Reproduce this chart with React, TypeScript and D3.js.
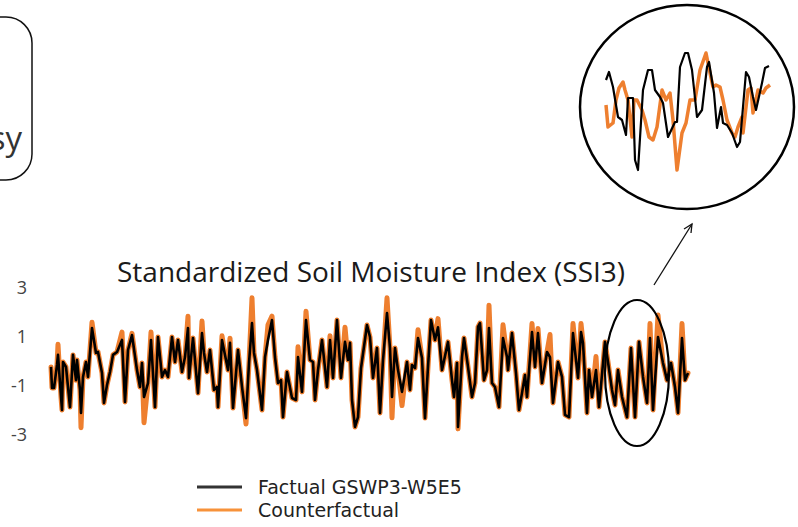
import * as d3 from 'd3';

const W = 798;
const H = 527;

// SSI3 monthly series (month index from start of record)
const months = [
  1, 2, 4, 7, 8, 11, 12, 13, 16, 20,
  23, 26, 27, 30, 31, 33, 36, 38, 42, 46,
  48, 52, 54, 57, 60, 63, 67, 72, 75, 78,
  82, 87, 90, 92, 94, 98, 101, 105, 108, 112,
  115, 118, 122, 125, 128, 132, 135, 138, 139, 143,
  148, 152, 154, 157, 160, 164, 167, 168, 172, 175,
  178, 180, 183, 188, 192, 196, 199, 202, 204, 207,
  212, 215, 218, 222, 225, 228, 231, 233, 237, 242,
  246, 248, 252, 256, 260, 263, 265, 268, 272, 277,
  280, 283, 287, 291, 295, 298, 300, 302, 305, 308,
  311, 317, 320, 323, 327, 330, 333, 337, 340, 342,
  345, 348, 352, 357, 360, 362, 365, 368, 372, 375,
  378, 381, 385, 388, 392, 398, 402, 404, 407, 408,
  412, 414, 418, 422, 425, 428, 430, 434, 437, 439,
  442, 445, 449, 453, 457, 458, 462, 466, 469, 472,
  475, 477, 482, 485, 488, 492, 497, 500, 503, 508,
  512, 515, 519, 523, 528, 531, 533, 537, 539, 542,
  546, 549, 555, 558, 562, 565, 568, 572, 577, 581,
  585, 589, 593, 597, 600, 603, 608, 613, 617, 621,
  625, 628, 632, 635, 638,
];

const factual = [
  -0.22, -1.08, -1.08, -0.14, 0.27, -1.45, -1.98, -0.02, -0.22, -1.86,
  0.27, -0.76, 0.06, -1.16, -2.1, -0.63, -0.02, -0.63, 1.37, 0.35,
  0.39, -0.47, -1.69, -0.96, -0.43, 0.27, 0.39, 0.88, -1.65, 0.47,
  1.08, -0.35, -1.04, -0.06, -1.45, -0.88, 0.88, -1.86, 1.0, -0.63,
  -0.35, -0.63, 1.0, -0.02, 0.88, -0.43, 0.18, 1.37, -0.67, 0.96,
  -1.29, 1.16, 0.35, -0.43, 0.47, -1.16, -1.04, -1.86, 0.88, 0.27,
  -0.35, 0.76, -1.9, 0.47, -1.04, -2.31, -0.06, 1.57, 0.35, -0.35,
  -1.98, 0.18, 0.88, 1.69, 0.18, -0.88, -0.76, -2.27, -0.43, -1.49,
  -1.57, 0.18, -1.24, 1.69, 0.06, -0.02, -1.57, -0.35, 0.88, -1.04,
  0.88, -0.67, 1.69, -0.67, 0.8, 0.06, 0.76, -1.57, -2.67, -2.27,
  -0.27, 1.49, 1.0, -0.67, 0.55, -2.1, 0.06, 1.98, 0.55, -1.45,
  0.55, -0.35, -1.24, -0.02, -1.16, -0.14, -0.27, 0.96, 0.14, -2.31,
  -0.22, 1.69, 0.88, 1.4, -0.35, 0.8, -0.76, -1.45, -0.06, -2.67,
  0.18, 0.96, -0.22, -1.45, -0.88, 1.41, 1.57, -0.76, -0.35, 1.37,
  -0.88, -1.04, -1.86, 0.96, 0.18, -0.35, 1.16, -0.47, -1.98, -1.29,
  -0.55, -1.45, 1.2, -0.22, 1.16, -0.88, 0.39, 0.18, -1.69, -0.02,
  -0.63, -2.18, -2.27, 1.16, -0.67, 1.2, 0.76, -2.1, -0.35, -1.45,
  -0.35, -1.86, 0.8, -0.02, -1.16, -1.78, -0.35, -1.45, -2.27, 0.55,
  -2.27, 0.8, -0.63, -1.69, 0.96, -1.98, 1.0, -0.06, -0.76, -0.06,
  -1.04, -2.1, 0.96, -0.76, -0.47,
];

const counterfactual = [
  -0.22, -1.08, -1.08, -0.14, 0.7, -1.45, -1.98, -0.02, -0.22, -1.86,
  0.27, -0.76, 0.06, -1.16, -2.7, -0.63, -0.02, -0.63, 1.6, 0.35,
  0.39, -0.47, -1.69, -0.96, -0.43, 0.27, 0.39, 1.2, -1.65, 0.47,
  1.15, -0.35, -1.04, -0.06, -2.5, -0.88, 1.2, -1.86, 1.0, -0.63,
  -0.35, -0.63, 1.0, -0.02, 0.88, -0.43, 0.18, 1.85, -0.67, 0.96,
  -1.29, 1.65, 0.35, -0.43, 0.47, -1.16, -1.04, -1.86, 1.05, 0.27,
  -0.35, 0.95, -1.9, 0.47, -1.04, -2.55, -0.06, 2.6, 0.35, -0.35,
  -1.98, 0.18, 1.5, 1.85, 0.18, -0.88, -0.76, -2.27, -0.43, -1.49,
  -1.57, 0.6, -1.24, 2.05, 0.06, -0.02, -1.57, -0.35, 0.88, -1.04,
  1.05, -0.67, 1.69, -0.67, 1.4, 0.06, 0.76, -1.57, -2.67, -2.27,
  -0.27, 1.49, 1.0, -0.67, 0.55, -2.1, 0.06, 2.6, 0.55, -2.3,
  0.55, -0.35, -1.8, -0.02, -1.16, -0.14, -0.27, 1.3, 0.14, -2.31,
  -0.22, 1.69, 0.88, 1.75, -0.35, 0.8, -0.76, -1.45, -0.06, -2.75,
  0.18, 0.96, -0.22, -1.45, -0.88, 1.41, 1.57, -0.76, -0.35, 2.3,
  -0.88, -1.04, -1.86, 1.5, 0.18, -0.35, 1.16, -0.47, -1.98, -1.29,
  -0.55, -1.45, 1.55, -0.22, 1.35, -0.88, 0.39, 1.1, -1.69, -0.02,
  -0.63, -2.18, -2.27, 1.55, -0.67, 1.55, 0.76, -2.1, -0.35, -1.45,
  0.2, -1.86, 0.8, -0.02, -1.16, -1.78, -0.35, -1.45, -2.27, 0.55,
  -2.27, 0.8, -0.63, -1.69, 1.55, -1.98, 1.9, -0.06, -0.76, -0.06,
  -1.04, -2.1, 1.55, -0.76, -0.47,
];

// zoomed-in detail shown in the circular inset
const insetFactualT = [6, 9, 13, 18, 22, 26, 28, 33, 35, 38, 43, 48, 52, 55, 60, 63, 68, 75, 77, 80, 85, 88, 92, 97, 102, 107, 109, 114, 117, 121, 123, 127, 132, 137, 140, 146, 149, 153, 156, 162, 165, 169];
const insetFactual = [1.35, 1.75, 1.0, -0.5, -0.65, -1.4, 0.45, 0.45, -2.65, -3.15, 0.85, 1.85, 1.85, 0.85, 0.5, 0.2, -1.5, -0.75, -0.75, 2.0, 2.7, 2.7, 1.85, -0.5, -0.15, 2.0, 2.25, 0.7, -1.05, 0, -0.8, -0.9, -1.3, -2.0, -1.75, 1.75, 1.5, 0.5, -0.15, 1.2, 1.95, 2.05];
const insetCounterT = [6, 8, 13, 16, 19, 23, 25, 28, 32, 34, 37, 42, 45, 49, 53, 57, 62, 66, 70, 73, 77, 82, 86, 90, 95, 100, 106, 110, 113, 116, 120, 123, 127, 132, 135, 138, 142, 143, 148, 151, 153, 158, 163, 166, 170];
const insetCounter = [0.1, -1.0, -0.8, 0.35, 0.95, 1.25, 0.85, 0.35, -1.5, 0.35, 0.35, -0.15, -0.65, -1.5, -1.65, -1.0, 0.85, 0.35, 0.7, -0.65, -3.15, -1.3, -0.8, 0.35, 0.35, 1.85, 2.7, 1.7, 1.0, 1.1, 1.0, 0.35, -0.65, -1.3, -1.5, -1.0, -0.5, -1.3, 0.85, 0.95, -0.3, 0.85, 0.7, 0.95, 1.1];

const yTicks = [3, 1, -1, -3];
const legendItems = [
  { label: 'Factual GSWP3-W5E5', color: '#333333' },
  { label: 'Counterfactual', color: '#f7923a' },
];

const BLACK = '#000000';
const ORANGE = '#ee7f2f';

export default function App() {
  const x = d3.scaleLinear().domain([0, 640]).range([50, 690]);
  const y = d3.scaleLinear().domain([-3, 3]).range([435, 288]);

  const line = d3.line<[number, number]>()
    .x(d => x(d[0]))
    .y(d => y(d[1]));

  const fact = months.map((m, i) => [m, factual[i]] as [number, number]);
  const cf = months.map((m, i) => [m, counterfactual[i]] as [number, number]);

  // inset scales
  const ix = d3.scaleLinear().domain([0, 175]).range([600, 775]);
  const iy = d3.scaleLinear().domain([-3, 3]).range([167, 47]);
  const iline = d3.line<[number, number]>()
    .x(d => ix(d[0]))
    .y(d => iy(d[1]));
  const insetF = insetFactualT.map((t, i) => [t, insetFactual[i]] as [number, number]);
  const insetC = insetCounterT.map((t, i) => [t, insetCounter[i]] as [number, number]);

  return (
    <svg width={W} height={H} style={{ position: 'absolute', left: 0, top: 0, background: '#fff' }}>
      {/* box cut at left edge */}
      <rect x={-220} y={17} width={252} height={163} rx={26} ry={26} fill="none" stroke="#111" strokeWidth={1.5} />
      <text x={22} y={150} textAnchor="end" fontFamily="Open Sans" fontSize={33} fill="#333">sy</text>

      {/* inset */}
      <ellipse cx={687} cy={107} rx={107} ry={102} fill="#fff" stroke={BLACK} strokeWidth={2.5} />
      <path d={iline(insetC) ?? ''} fill="none" stroke={ORANGE} strokeWidth={3.5} strokeLinejoin="round" />
      <path d={iline(insetF) ?? ''} fill="none" stroke={BLACK} strokeWidth={2.2} strokeLinejoin="round" />

      {/* arrow to inset */}
      <line x1={654} y1={285} x2={692} y2={224} stroke="#111" strokeWidth={1.3} />
      <path d="M684,229 L692,224 L691,233" fill="none" stroke="#111" strokeWidth={1.3} />

      <text x={117} y={282} fontFamily="Open Sans" fontSize={28} fill="#1a1a1a">
        Standardized Soil Moisture Index (SSI3)
      </text>

      {yTicks.map(t => (
        <text key={t} x={27} y={y(t)} dy="0.35em" textAnchor="end" fontFamily="Open Sans" fontSize={18} fill="#444">
          {t}
        </text>
      ))}

      <path d={line(cf) ?? ''} fill="none" stroke={ORANGE} strokeWidth={5} strokeLinejoin="round" strokeLinecap="round" />
      <path d={line(fact) ?? ''} fill="none" stroke={BLACK} strokeWidth={2.6} strokeLinejoin="round" />

      <ellipse cx={637} cy={373} rx={32} ry={73} fill="none" stroke={BLACK} strokeWidth={2.2} />

      {legendItems.map((item, i) => (
        <g key={item.label} transform={`translate(197,${487 + i * 23})`}>
          <line x1={0} x2={45} y1={0} y2={0} stroke={item.color} strokeWidth={3} />
          <text x={61} y={0} dy="0.35em" fontFamily="DejaVu Sans" fontSize={19} fill="#222">{item.label}</text>
        </g>
      ))}
    </svg>
  );
}
